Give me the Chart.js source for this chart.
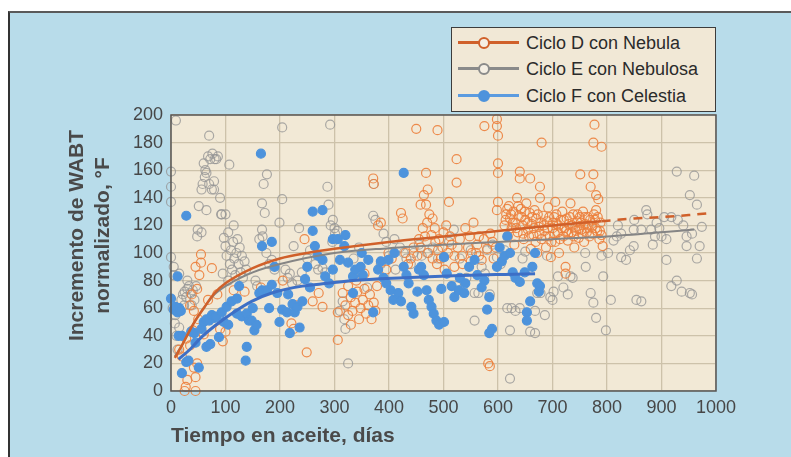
<!DOCTYPE html>
<html>
<head>
<meta charset="utf-8">
<script src="https://cdn.jsdelivr.net/npm/chart.js@4/dist/chart.umd.min.js"></script>
<style>
  html, body { margin: 0; padding: 0; background: #fff; }
  #wrap { position: relative; width: 791px; height: 457px; overflow: hidden; font-family: 'Liberation Sans', Arial, sans-serif; }
  #panel { position: absolute; left: 8px; top: 11px; width: 783px; height: 446px; box-sizing: border-box;
           background: #b8dcea; border-top: 2px solid #5a5a5a; border-left: 2px solid #333; }
  #chart { position: absolute; left: 0; top: 0; }
  #legend { position: absolute; left: 451px; top: 27px; width: 265px; height: 85px; box-sizing: border-box;
            background: #f1e8d6; border: 1.5px solid #3c3c3c; }
  .item { position: absolute; left: 0; width: 260px; height: 22px; }
  .line { position: absolute; left: 6px; top: 9px; width: 61px; height: 3px; }
  .dot { position: absolute; left: 26px; top: 5px; width: 8px; height: 8px; border-radius: 50%; border: 2px solid; }
  .label { position: absolute; left: 74px; top: 0; font-size: 18px; line-height: 22px; color: #2b2b2b; white-space: nowrap; }
</style>
</head>
<body>
<div id="wrap">
  <div id="panel"></div>
  <canvas id="chart" width="791" height="457"></canvas>
  <div id="legend"></div>
</div>
<script>
// ---- data (days, normalized WABT increase °F) ----
const seriesNames = ['Ciclo D con Nebula', 'Ciclo E con Nebulosa', 'Ciclo F con Celestia'];
const xTicks = [0, 100, 200, 300, 400, 500, 600, 700, 800, 900, 1000];
const yTicks = [0, 20, 40, 60, 80, 100, 120, 140, 160, 180, 200];

const cicloD = [
  [25,0],[27,3],[45,0],[30,8],[45,10],[42,17],[48,20],[35,33],[28,38],[40,44],[50,52],[42,58],[38,70],[48,74],
  [52,84],[45,90],[55,93],[55,99],[75,89],[68,66],[90,45],[95,36],[60,41],[20,25],[15,30],[35,62],[100,43],[85,70],[115,73],
  [135,72],[165,75],[205,80],[221,49],[225,45],[249,28],[260,65],[278,61],[271,71],[245,110],[306,37],[306,57],[315,71],[325,76],[230,62],
  [320,62],[325,55],[330,68],[333,58],[338,64],[342,72],[345,52],[348,60],[352,66],[355,74],[358,56],[362,62],[365,70],[368,52],
  [372,64],[375,58],[378,76],[340,80],[355,85],[330,48],
  [371,154],[372,150],[380,120],[385,122],[399,100],[405,96],[395,88],[422,129],[425,125],[450,190],[489,189],[468,158],[471,146],
  [464,142],[458,135],[468,135],[474,128],[480,125],[462,118],[455,110],[445,104],[435,92],[478,113],[485,108],[490,102],[495,96],
  [500,115],[505,120],[510,137],[524,168],[524,151],[515,106],[520,98],[530,110],[540,118],[545,104],[550,94],[555,122],[560,100],
  [565,112],[570,95],[575,192],[598,197],[598,192],[600,185],[600,165],[600,158],[600,137],[598,131],[590,108],[582,20],[585,18],
  [430,100],[440,96],[520,90],[535,92],[480,96],[565,98],[580,103],[592,96],
  [452,98],[458,104],[466,112],[472,100],[484,118],[492,110],[498,104],[508,100],[512,112],[526,104],[534,98],[548,112],
  [552,100],[562,106],[574,110],[586,114],[596,104],[470,122],[488,92],[502,88],
  [612,120],[615,128],[618,112],[620,134],[622,125],[625,118],[628,130],[630,106],[632,122],[635,140],[636,115],[638,127],[640,159],
  [640,154],[642,132],[645,120],[647,110],[650,124],[652,136],[655,117],[658,129],[659,154],[660,103],[662,121],[665,113],[667,131],
  [670,125],[672,100],[675,119],[677,148],[677,140],[680,180],[680,110],[683,127],[685,116],[688,104],[690,123],[692,133],[695,112],
  [697,97],[700,118],[703,126],[705,137],[705,108],[708,121],[710,115],[712,100],[715,124],[718,130],[720,112],[722,118],[724,90],
  [724,85],[726,125],[728,109],[730,121],[733,136],[735,115],[738,128],[740,104],[742,119],[745,123],[748,111],[750,126],[751,157],
  [753,117],[756,130],[758,108],[760,121],[763,115],[765,126],[768,112],[770,148],[772,119],[775,157],[775,180],[777,193],[778,124],
  [780,142],[780,131],[782,116],[784,139],[786,110],[788,122],[790,177],[790,113],[792,105],
  [614,124],[617,132],[624,128],[627,122],[633,118],[637,134],[643,126],[646,114],[649,130],[654,122],[657,112],[663,126],
  [666,118],[669,108],[673,128],[676,114],[679,122],[684,120],[687,112],[691,118],[694,126],[698,108],[701,122],[704,114],
  [707,128],[711,120],[714,110],[717,118],[721,124],[725,116],[729,114],[732,126],[736,120],[739,112],[743,116],[746,128],
  [749,118],[752,122],[755,114],[759,126],[762,118],[766,120],[769,124],[773,114],[776,128],[779,118],[783,126],[787,116]
];

const cicloE = [
  [0,159],[0,148],[0,137],[0,97],[5,90],[5,84],[9,196],[7,49],[3,60],[8,55],[10,40],[12,30],[15,46],
  [19,66],[22,70],[25,72],[28,68],[30,74],[33,76],[36,71],[40,73],[43,66],[46,76],[24,62],[38,62],[30,80],[15,85],
  [70,185],[60,165],[63,160],[65,158],[68,170],[72,168],[76,172],[80,168],[83,168],[86,170],[79,152],[79,146],[56,146],[58,150],
  [62,155],[65,131],[51,134],[56,115],[49,117],[48,112],[75,146],[70,150],[90,140],[92,128],
  [93,128],[97,111],[100,105],[102,98],[105,115],[108,92],[110,102],[112,88],[114,108],[116,96],[118,84],[120,100],[122,110],
  [124,92],[126,104],[128,86],[130,98],[132,82],[135,94],[138,88],[107,164],[100,128],[115,120],[95,85],[105,80],
  [176,157],[170,150],[167,136],[172,129],[167,117],[162,110],[168,112],[158,76],[155,80],[175,100],[180,92],[185,95],[190,88],
  [204,191],[204,139],[199,122],[218,85],[214,82],[210,88],[222,78],[240,86],[232,80],[250,96],[255,102],[265,92],[270,88],[225,105],[235,118],
  [292,193],[287,148],[289,135],[297,124],[293,120],[300,118],[301,114],[305,116],[296,108],[278,89],[283,86],[315,65],[320,45],
  [325,20],[310,58],[318,52],[335,96],[345,104],
  [371,127],[372,150],[375,124],[390,114],[395,108],[410,110],[420,104],[427,100],[432,96],[440,92],[445,100],[455,106],[460,98],
  [400,98],[385,92],[350,84],[412,88],[360,75],
  [470,100],[480,104],[490,96],[501,97],[510,108],[519,117],[524,76],[530,96],[535,74],[542,82],[550,102],[557,51],[557,71],
  [564,71],[570,90],[576,85],[580,102],[585,70],[590,106],[598,97],
  [617,60],[622,9],[622,44],[625,60],[632,58],[640,60],[645,96],[650,101],[659,43],[668,42],[668,58],[672,71],[678,71],[686,55],
  [696,68],[700,66],[702,72],[710,83],[720,75],[733,83],[737,82],[728,70],[690,98],[612,102],[605,92],
  [761,90],[770,71],[775,64],[780,53],[793,83],[798,44],[807,66],[802,100],[812,109],[818,112],[826,114],[826,97],[835,95],
  [842,102],[849,105],[849,117],[854,66],[863,65],[863,117],[872,131],[874,128],[881,117],[884,106],[891,122],[896,118],[900,112],
  [909,95],[909,110],[918,76],[918,126],[928,159],[928,80],[937,72],[946,105],[946,112],[952,142],[952,71],[956,70],[956,114],
  [960,156],[965,135],[965,96],[970,105],[974,119],[940,120],[930,124],[905,126],[888,112],[760,100],[790,98],[820,120],[850,124]
];

const cicloF = [
  [0,67],[5,59],[8,61],[12,57],[15,60],[18,58],[12,83],[28,127],[14,40],[20,40],[20,13],[28,21],[32,22],[51,17],[37,43],[43,42],
  [56,45],[60,50],[65,52],[70,51],[75,55],[80,53],[83,54],[93,57],[97,50],[88,39],[65,32],[72,34],[102,61],[111,65],[121,67],
  [125,76],[121,56],[130,54],[139,56],[143,51],[139,32],[137,22],[148,51],[153,44],[157,48],[162,71],[167,73],[167,105],[165,172],
  [176,73],[185,108],[185,77],[190,90],[195,71],[199,50],[204,59],[213,57],[218,42],[223,63],[227,57],[232,61],[236,46],[241,65],
  [246,81],[250,90],[260,116],[260,130],[278,131],[264,105],[269,98],[278,95],[283,83],[297,88],[297,110],[306,110],[320,113],
  [318,105],[325,93],[334,83],[334,71],[338,88],[348,90],[352,84],[362,95],[371,57],[380,88],[385,94],[390,82],[399,95],[403,73],
  [408,66],[417,71],[422,65],[427,158],[427,90],[432,84],[436,78],[441,61],[445,56],[452,72],[459,90],[464,84],[469,73],[473,66],
  [478,61],[482,56],[487,51],[492,48],[501,50],[496,74],[501,97],[506,85],[515,76],[520,68],[528,73],[538,71],[547,90],[557,95],
  [562,84],[575,80],[580,59],[584,68],[589,45],[584,42],[598,90],[603,104],[607,94],[612,98],[617,112],[622,100],[627,86],[632,82],
  [640,79],[649,86],[653,57],[653,51],[659,65],[663,90],[668,100],[672,78],[677,76],[675,72],[410,100],[395,78],[455,88],[530,82],
  [540,78],[570,75],[350,100],[310,95],[290,78],[255,75],[215,70],[180,60],[150,60],[105,48],[45,35]
];

// fitted trend curves
const fitDx = [7, 20, 40, 60, 80, 100, 150, 200, 250, 300, 400, 500, 600, 700, 790];
const fitDy = [24, 33, 48, 60, 71, 78, 89, 96, 100, 103, 108, 112, 116, 120, 123];
const fitDextX = [790, 850, 900, 950, 990];
const fitDextY = [123, 125, 126, 127.5, 129];
const fitEx = [7, 20, 40, 60, 80, 100, 150, 200, 300, 400, 500, 600, 700, 800, 900, 960];
const fitEy = [25, 33, 48, 60, 70, 76, 86, 92, 100, 103.5, 106, 108, 110, 112, 115, 117];
const fitFx = [14, 37, 56, 83, 111, 148, 185, 241, 288, 334, 427, 519, 612, 668];
const fitFy = [23, 31, 39, 48, 56, 65, 71, 76, 78, 80, 82, 83.5, 84.5, 85];

const colors = {
  dLine: '#d0602a', dPoint: 'rgba(236,128,60,0.9)',
  eLine: '#858585', ePoint: 'rgba(150,150,150,0.8)',
  fLine: '#3d6fc6', fPoint: '#4d93dc'
};

const toPts = arr => arr.map(p => ({ x: p[0], y: p[1] }));
const zipPts = (xs, ys) => xs.map((x, i) => ({ x: x, y: ys[i] }));

function scatterSet(label, data, stroke, fill, order) {
  return {
    label: label,
    data: toPts(data),
    showLine: false,
    pointRadius: 4.5,
    pointBorderWidth: 1.2,
    pointBorderColor: stroke,
    pointBackgroundColor: fill,
    clip: false,
    order: order
  };
}

function curveSet(label, xs, ys, color, width, dash) {
  return {
    label: label,
    data: zipPts(xs, ys),
    showLine: true,
    borderColor: color,
    borderWidth: width,
    borderDash: dash || [],
    pointRadius: 0,
    fill: false,
    cubicInterpolationMode: 'monotone',
    order: 0
  };
}

const plotFrame = {
  id: 'plotFrame',
  beforeDraw(chart) {
    const { ctx, chartArea: a } = chart;
    ctx.save();
    ctx.fillStyle = '#f2e9d6';
    ctx.fillRect(a.left, a.top, a.right - a.left, a.bottom - a.top);
    ctx.restore();
  },
  afterDraw(chart) {
    const { ctx, chartArea: a } = chart;
    ctx.save();
    ctx.strokeStyle = '#555';
    ctx.lineWidth = 1.5;
    ctx.strokeRect(a.left, a.top, a.right - a.left, a.bottom - a.top);
    ctx.restore();
  }
};

const tickFont = { family: "'Liberation Sans', Arial, sans-serif", size: 18 };
const titleFont = { family: "'Liberation Sans', Arial, sans-serif", size: 21, weight: 'bold' };

new Chart(document.getElementById('chart').getContext('2d'), {
  type: 'scatter',
  data: {
    datasets: [
      curveSet('fitD', fitDx, fitDy, colors.dLine, 2.5),
      curveSet('fitDext', fitDextX, fitDextY, colors.dLine, 2.5, [9, 7]),
      curveSet('fitE', fitEx, fitEy, colors.eLine, 2),
      curveSet('fitF', fitFx, fitFy, colors.fLine, 3),
      scatterSet(seriesNames[2], cicloF, colors.fPoint, colors.fPoint, 1),
      scatterSet(seriesNames[0], cicloD, colors.dPoint, 'rgba(0,0,0,0)', 2),
      scatterSet(seriesNames[1], cicloE, colors.ePoint, 'rgba(0,0,0,0)', 3)
    ]
  },
  options: {
    responsive: false,
    animation: false,
    layout: { padding: { left: 0, top: 115, right: 75, bottom: 0 } },
    plugins: { legend: { display: false }, tooltip: { enabled: false } },
    scales: {
      x: {
        type: 'linear',
        min: 0, max: 1000,
        afterBuildTicks: s => { s.ticks = xTicks.map(v => ({ value: v })); },
        afterFit: s => { s.height = 66; },
        grid: { color: '#cdc2aa', lineWidth: 1.3, drawTicks: false },
        border: { display: false },
        ticks: { font: tickFont, color: '#474747', padding: 6, maxRotation: 0, callback: v => String(v) },
        title: { display: true, text: 'Tiempo en aceite, días', align: 'start', font: titleFont, color: '#4a4a4a',
                 padding: { top: 0, bottom: 8 } }
      },
      y: {
        min: 0, max: 200,
        afterBuildTicks: s => { s.ticks = yTicks.map(v => ({ value: v })); },
        afterFit: s => { s.width = 171; },
        grid: { color: '#cdc2aa', lineWidth: 1.3, drawTicks: false },
        border: { display: false },
        ticks: { font: tickFont, color: '#474747', padding: 8, callback: v => String(v) },
        title: { display: true, text: ['      Incremento de WABT', '      normalizado, °F'], font: titleFont, color: '#4a4a4a',
                 padding: { top: 65, bottom: 0 } }
      }
    }
  },
  plugins: [plotFrame]
});

// legend box, laid out like the reference
const legendRows = [
  { name: seriesNames[0], line: colors.dLine, ring: '#d0602a', fill: '#f5efe4', top: 4 },
  { name: seriesNames[1], line: '#8a8a8a', ring: '#8a8a8a', fill: '#f5efe4', top: 30 },
  { name: seriesNames[2], line: '#5b9be0', ring: '#4d93dc', fill: '#4d93dc', top: 57 }
];
const legend = document.getElementById('legend');
legendRows.forEach(r => {
  const item = document.createElement('div');
  item.className = 'item';
  item.style.top = r.top + 'px';
  item.innerHTML =
    '<div class="line" style="background:' + r.line + '"></div>' +
    '<div class="dot" style="border-color:' + r.ring + ';background:' + r.fill + '"></div>' +
    '<div class="label">' + r.name + '</div>';
  legend.appendChild(item);
});
</script>
</body>
</html>
